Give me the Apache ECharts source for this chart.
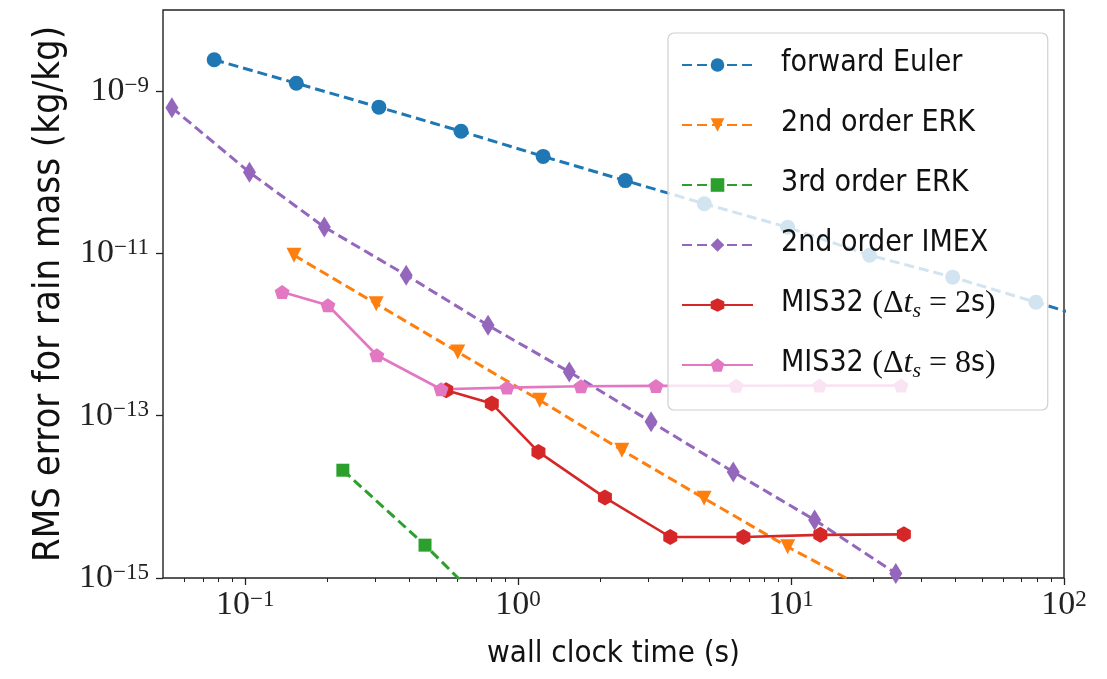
<!DOCTYPE html>
<html>
<head>
<meta charset="utf-8">
<script src="https://cdn.jsdelivr.net/npm/echarts@6/dist/echarts.min.js"></script>
<style>
  html, body { margin: 0; padding: 0; background: #fff; }
  #chart { width: 1107px; height: 679px; }
</style>
</head>
<body>
<div id="chart"></div>
<script>
// wall clock time (s) vs RMS error for rain mass (kg/kg)
var eulerTime = [0.077, 0.154, 0.309, 0.618, 1.235, 2.47, 4.81, 9.72, 19.4, 39.1, 78.9, 158];
var eulerErr = [2.44e-9, 1.25e-9, 6.35e-10, 3.2e-10, 1.57e-10, 7.9e-11, 4.1e-11, 2.1e-11, 9.5e-12, 5.1e-12, 2.5e-12, 1.25e-12];

var erk2Time = [0.151, 0.302, 0.601, 1.2, 2.4, 4.8, 9.72, 19.4];
var erk2Err = [9.5e-12, 2.4e-12, 6.1e-13, 1.55e-13, 3.76e-14, 9.6e-15, 2.42e-15, 7e-16];

var erk3Time = [0.228, 0.456, 0.912];
var erk3Err = [2.13e-14, 2.54e-15, 2.5e-16];

var imexTime = [0.0539, 0.1037, 0.195, 0.389, 0.776, 1.54, 3.07, 6.14, 12.2, 24.2];
var imexErr = [6.25e-10, 1.0e-10, 2.11e-11, 5.4e-12, 1.3e-12, 3.46e-13, 8.4e-14, 2.03e-14, 5.2e-15, 1.14e-15];

var mis2Time = [0.545, 0.801, 1.187, 2.08, 3.61, 6.69, 12.8, 25.9];
var mis2Err = [2.06e-13, 1.41e-13, 3.58e-14, 9.8e-15, 3.2e-15, 3.2e-15, 3.4e-15, 3.45e-15];

var mis8Time = [0.1366, 0.201, 0.3037, 0.522, 0.911, 1.7, 3.2, 6.29, 12.7, 25.3];
var mis8Err = [3.35e-12, 2.3e-12, 5.56e-13, 2.12e-13, 2.22e-13, 2.31e-13, 2.33e-13, 2.34e-13, 2.35e-13, 2.35e-13];

var xMajorTicks = [0.1, 1, 10, 100];
var xMinorTicks = [0.06, 0.07, 0.08, 0.09, 0.2, 0.3, 0.4, 0.5, 0.6, 0.7, 0.8, 0.9,
  2, 3, 4, 5, 6, 7, 8, 9, 20, 30, 40, 50, 60, 70, 80, 90];
var yMajorTicks = [1e-15, 1e-13, 1e-11, 1e-9];

var SANS = "'DejaVu Sans Condensed', 'Liberation Sans Narrow', 'DejaVu Sans', sans-serif";
var SERIF = "'Liberation Serif', 'DejaVu Serif', serif";

function zip(xs, ys) {
  return xs.map(function (x, i) { return [x, ys[i]]; });
}

function powLabel(v) {
  var e = Math.round(Math.log(v) / Math.LN10);
  return '{b|10}{s|' + String(e).replace('-', '\u2212') + '}';
}

var powRich = {
  b: { fontFamily: SERIF, fontSize: 34, lineHeight: 34, verticalAlign: 'bottom', color: '#222' },
  s: { fontFamily: SERIF, fontSize: 23, lineHeight: 22, verticalAlign: 'top', color: '#222' }
};

var legendNames = {
  'forward Euler': '{t0|forward Euler}',
  '2nd order ERK': '{t0|2nd order ERK}',
  '3rd order ERK': '{t0|3rd order ERK}',
  '2nd order IMEX': '{t0|2nd order IMEX}',
  'MIS32 2s': '{t0|MIS32 }{r|(\u0394}{i|t}{sub|s}{r| = 2}{t|s}{r|)}',
  'MIS32 8s': '{t0|MIS32 }{r|(\u0394}{i|t}{sub|s}{r| = 8}{t|s}{r|)}'
};

var dashed = [10, 5];

function makeSeries(name, xs, ys, color, symbol, size, dash, rotate) {
  return {
    name: name,
    type: 'line',
    data: zip(xs, ys),
    symbol: symbol,
    symbolSize: size,
    symbolRotate: rotate || 0,
    showSymbol: true,
    clip: true,
    lineStyle: { color: color, width: dash ? 3 : 2.6, type: dash ? dashed : 'solid' },
    itemStyle: { color: color, borderWidth: 0 },
    emphasis: { disabled: true }
  };
}

var hexagon = 'path://M0,-1 L0.866,-0.5 L0.866,0.5 L0,1 L-0.866,0.5 L-0.866,-0.5 Z';
var pentagon = 'path://M0,-1 L0.951,-0.309 L0.588,0.809 L-0.588,0.809 L-0.951,-0.309 Z';

var chart = echarts.init(document.getElementById('chart'));

var option = {
  animation: false,
  backgroundColor: '#fff',
  grid: {
    left: 163, top: 10, right: 43, bottom: 101,
    show: true, borderColor: '#222', borderWidth: 1.4, backgroundColor: 'transparent'
  },
  legend: {
    orient: 'vertical',
    left: 668,
    top: 33,
    padding: [15, 52, 28, 13],
    itemWidth: 71,
    itemHeight: 17,
    itemGap: 26,
    backgroundColor: 'rgba(255,255,255,0.8)',
    borderColor: '#d0d0d0',
    borderWidth: 1.2,
    borderRadius: 6,
    z: 10,
    data: ['forward Euler', '2nd order ERK', '3rd order ERK', '2nd order IMEX', 'MIS32 2s', 'MIS32 8s'],
    formatter: function (name) { return legendNames[name]; },
    textStyle: {
      color: '#111',
      fontFamily: SANS,
      fontSize: 30,
      lineHeight: 40,
      rich: {
        t0: { fontFamily: SANS, fontSize: 30, lineHeight: 34, verticalAlign: 'top', color: '#111', padding: [0, 0, 0, 23] },
        t: { fontFamily: SANS, fontSize: 30, lineHeight: 34, verticalAlign: 'top', color: '#111' },
        r: { fontFamily: SERIF, fontSize: 32, lineHeight: 34, verticalAlign: 'top', color: '#111' },
        i: { fontFamily: SERIF, fontStyle: 'italic', fontSize: 32, lineHeight: 34, verticalAlign: 'top', color: '#111' },
        sub: { fontFamily: SERIF, fontStyle: 'italic', fontSize: 22, lineHeight: 21, verticalAlign: 'bottom', color: '#111' }
      }
    }
  },
  xAxis: [
    {
      type: 'log',
      logBase: 10,
      min: 0.05,
      max: 100,
      position: 'bottom',
      name: 'wall clock time (s)',
      nameLocation: 'middle',
      nameGap: 60,
      nameTextStyle: { fontFamily: SANS, fontSize: 31, color: '#111' },
      axisLine: { show: false },
      splitLine: { show: false },
      axisTick: { show: true, length: 7, lineStyle: { color: '#222', width: 1.3 }, customValues: xMajorTicks },
      axisLabel: { show: true, margin: 10, customValues: xMajorTicks, formatter: powLabel, rich: powRich }
    },
    {
      type: 'log',
      logBase: 10,
      min: 0.05,
      max: 100,
      position: 'bottom',
      axisLine: { show: false },
      splitLine: { show: false },
      axisTick: { show: true, length: 4, lineStyle: { color: '#222', width: 1 }, customValues: xMinorTicks },
      axisLabel: { show: false }
    }
  ],
  yAxis: {
    type: 'log',
    logBase: 10,
    min: 1e-15,
    max: 1e-8,
    name: 'RMS error for rain mass (kg/kg)',
    nameLocation: 'middle',
    nameGap: 94,
    nameTextStyle: { fontFamily: SANS, fontSize: 38, color: '#111' },
    axisLine: { show: false },
    splitLine: { show: false },
    axisTick: { show: true, length: 7, lineStyle: { color: '#222', width: 1.3 }, customValues: yMajorTicks },
    axisLabel: { show: true, margin: 14, customValues: yMajorTicks, formatter: powLabel, rich: powRich }
  },
  series: [
    makeSeries('forward Euler', eulerTime, eulerErr, '#1f77b4', 'circle', 15, true),
    makeSeries('2nd order ERK', erk2Time, erk2Err, '#ff7f0e', 'triangle', 15, true, 180),
    makeSeries('3rd order ERK', erk3Time, erk3Err, '#2ca02c', 'rect', 13, true),
    makeSeries('2nd order IMEX', imexTime, imexErr, '#9467bd', 'diamond', [13, 21], true),
    makeSeries('MIS32 2s', mis2Time, mis2Err, '#d62728', hexagon, [14, 16], false),
    makeSeries('MIS32 8s', mis8Time, mis8Err, '#e377c2', pentagon, [15, 14], false)
  ]
};

chart.setOption(option);
window.addEventListener('resize', function () {
  chart.resize();
});
</script>
</body>
</html>
